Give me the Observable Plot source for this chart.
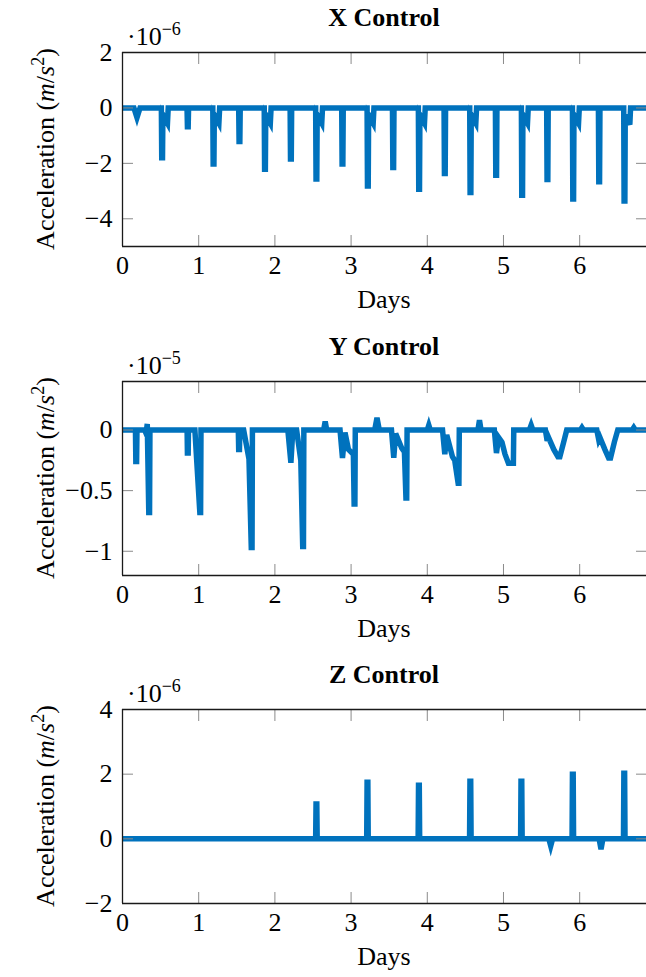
<!DOCTYPE html>
<html><head><meta charset="utf-8">
<script src="https://cdn.jsdelivr.net/npm/d3@7"></script>
<script src="https://cdn.jsdelivr.net/npm/@observablehq/plot@0.6"></script>
<style>
html,body{margin:0;padding:0;background:#fff;overflow:hidden;}
#chart svg{display:block;}
</style></head><body><div id="chart"></div>
<script>
// ---------- data (acceleration values in units of the axis multiplier) ----------
const xCtrlDays = [0, 0.15, 0.19, 0.23,
  0.51, 0.515, 0.525, 0.53, 0.59, 0.60,
  0.847, 0.852, 0.862, 0.867,
  1.185, 1.19, 1.20, 1.205, 1.265, 1.275,
  1.525, 1.53, 1.54, 1.545,
  1.86, 1.865, 1.875, 1.88, 1.94, 1.95,
  2.20, 2.205, 2.215, 2.22,
  2.535, 2.54, 2.55, 2.555, 2.615, 2.625,
  2.877, 2.882, 2.892, 2.897,
  3.21, 3.215, 3.225, 3.23, 3.29, 3.30,
  3.543, 3.548, 3.558, 3.563,
  3.883, 3.888, 3.898, 3.903, 3.963, 3.973,
  4.22, 4.225, 4.235, 4.24,
  4.557, 4.562, 4.572, 4.577, 4.637, 4.647,
  4.894, 4.899, 4.909, 4.914,
  5.235, 5.24, 5.25, 5.255, 5.315, 5.325,
  5.567, 5.572, 5.582, 5.587,
  5.905, 5.91, 5.92, 5.925, 5.985, 5.995,
  6.246, 6.251, 6.261, 6.266,
  6.578, 6.583, 6.593, 6.598, 6.658, 6.668,
  6.88];
const xCtrlVals = [0, 0, -0.35, 0,
  0, -1.80, -1.80, -0.25, -0.55, 0,
  0, -0.68, -0.68, 0,
  0, -2.02, -2.02, -0.25, -0.55, 0,
  0, -1.21, -1.21, 0,
  0, -2.21, -2.21, -0.25, -0.55, 0,
  0, -1.84, -1.84, 0,
  0, -2.56, -2.56, -0.25, -0.55, 0,
  0, -2.02, -2.02, 0,
  0, -2.82, -2.82, -0.25, -0.55, 0,
  0, -2.15, -2.15, 0,
  0, -2.93, -2.93, -0.25, -0.55, 0,
  0, -2.37, -2.37, 0,
  0, -3.05, -3.05, -0.25, -0.55, 0,
  0, -2.43, -2.43, 0,
  0, -3.15, -3.15, -0.25, -0.55, 0,
  0, -2.58, -2.58, 0,
  0, -3.29, -3.29, -0.25, -0.55, 0,
  0, -2.66, -2.66, 0,
  0, -3.36, -3.36, -0.25, -0.60, 0,
  0];

const yCtrlDays = [0, 0.17, 0.175, 0.185, 0.19,
  0.29, 0.31, 0.325, 0.345, 0.355, 0.36,
  0.848, 0.852, 0.862, 0.866,
  0.95, 1.015, 1.025, 1.03,
  1.52, 1.525, 1.535, 1.54,
  1.59, 1.66, 1.69, 1.70, 1.705,
  2.17, 2.21, 2.235, 2.285, 2.34, 2.365, 2.375, 2.38,
  2.64, 2.66, 2.68,
  2.855, 2.887, 2.92, 2.965, 3.03, 3.04, 3.05, 3.055,
  3.31, 3.34, 3.37,
  3.53, 3.56, 3.585, 3.665, 3.70, 3.72, 3.73, 3.735,
  4.00, 4.02, 4.04,
  4.20, 4.23, 4.255, 4.33, 4.36, 4.405, 4.415, 4.42,
  4.665, 4.685, 4.705,
  4.88, 4.908, 4.935, 4.98, 5.02, 5.065, 5.13, 5.135,
  5.34, 5.363, 5.385,
  5.55, 5.573, 5.59, 5.66, 5.715, 5.74, 5.79, 5.83,
  6.01, 6.03, 6.05,
  6.225, 6.25, 6.265, 6.33, 6.38, 6.405, 6.455, 6.50,
  6.69, 6.71, 6.73,
  6.88];
const yCtrlVals = [0, 0, -0.26, -0.26, 0,
  0, -0.03, 0.05, -0.68, -0.68, 0,
  0, -0.19, -0.19, 0,
  0, -0.68, -0.68, 0,
  0, -0.16, -0.16, 0,
  0, -0.24, -0.97, -0.97, 0,
  0, -0.27, 0, 0, -0.25, -0.96, -0.96, 0,
  0, 0.07, 0,
  0, -0.23, -0.02, -0.16, -0.20, -0.61, -0.61, 0,
  0, 0.10, 0,
  0, -0.23, -0.03, -0.15, -0.18, -0.56, -0.56, 0,
  0, 0.04, 0,
  0, -0.20, -0.04, -0.22, -0.25, -0.44, -0.44, 0,
  0, 0.08, 0,
  0, -0.19, -0.06, -0.10, -0.20, -0.275, -0.275, 0,
  0, 0.04, 0,
  0, -0.09, -0.06, -0.16, -0.22, -0.22, -0.10, 0,
  0, 0.02, 0,
  0, -0.08, -0.06, -0.16, -0.23, -0.23, -0.10, 0,
  0, 0.02, 0,
  0];

const zCtrlDays = [0,
  2.535, 2.54, 2.55, 2.555,
  3.205, 3.21, 3.22, 3.225,
  3.88, 3.885, 3.895, 3.90,
  4.555, 4.56, 4.57, 4.575,
  5.225, 5.23, 5.24, 5.245,
  5.595, 5.62, 5.645,
  5.90, 5.905, 5.915, 5.92,
  6.255, 6.28, 6.305,
  6.575, 6.58, 6.59, 6.595,
  6.88];
const zCtrlVals = [0,
  0, 1.08, 1.08, 0,
  0, 1.75, 1.75, 0,
  0, 1.66, 1.66, 0,
  0, 1.78, 1.78, 0,
  0, 1.78, 1.78, 0,
  0, -0.22, 0,
  0, 2.00, 2.00, 0,
  0, -0.32, 0,
  0, 2.03, 2.03, 0,
  0];

const titles = ["X Control", "Y Control", "Z Control"];
const exponents = ["6", "5", "6"];
const xTicks = [0, 1, 2, 3, 4, 5, 6];
const xTickLabels = ["0", "1", "2", "3", "4", "5", "6"];
const yTicksX = [2, 0, -2, -4];
const yTickLabelsX = ["2", "0", "\u22122", "\u22124"];
const yTicksY = [0, -0.5, -1];
const yTickLabelsY = ["0", "\u22120.5", "\u22121"];
const yTicksZ = [4, 2, 0, -2];
const yTickLabelsZ = ["4", "2", "0", "\u22122"];
const xLabel = "Days";

// ---------- layout / style ----------
const FONT = "'Liberation Serif', 'Times New Roman', Times, serif";
const BLUE = "#0072BD";
const TICK = "#8a8a8a";
const FRAME = "#1a1a1a";
const XDOMAIN = [0, 6.877];

const panels = [
  {days: xCtrlDays, vals: xCtrlVals, yDomain: [-5, 2], ticks: yTicksX, labels: yTickLabelsX, height: 327, mt: 52, mb: 81},
  {days: yCtrlDays, vals: yCtrlVals, yDomain: [-1.2, 0.4], ticks: yTicksY, labels: yTickLabelsY, height: 326, mt: 54, mb: 78},
  {days: zCtrlDays, vals: zCtrlVals, yDomain: [-2, 4], ticks: yTicksZ, labels: yTickLabelsZ, height: 324, mt: 56, mb: 74}
];

const fmt = (ticks, labels) => d => labels[ticks.indexOf(d)] ?? "";
const blank = () => "";

panels.forEach((p, k) => {
  const plot = Plot.plot({
    width: 646, height: p.height,
    marginLeft: 122, marginRight: 0, marginTop: p.mt, marginBottom: p.mb,
    style: {fontFamily: FONT, fontSize: "26px", color: "#000", background: "#fff", overflow: "visible"},
    x: {domain: XDOMAIN, label: null},
    y: {domain: p.yDomain, label: null},
    marks: [
      Plot.line(p.vals, {x: p.days, y: p.vals, stroke: BLUE, strokeWidth: 5.5,
        strokeLinejoin: "miter", strokeLinecap: "butt", strokeMiterlimit: 4, clip: true}),
      // inward tick marks on all four sides
      Plot.axisX(xTicks, {anchor: "bottom", tickSize: 11, dy: -11, tickFormat: blank, stroke: TICK, strokeWidth: 1, label: null}),
      Plot.axisX(xTicks, {anchor: "top", tickSize: 11, dy: 11, tickFormat: blank, stroke: TICK, strokeWidth: 1, label: null}),
      Plot.axisY(p.ticks, {anchor: "left", tickSize: 11, dx: 11, tickFormat: blank, stroke: TICK, strokeWidth: 1, label: null}),
      Plot.axisY(p.ticks, {anchor: "right", tickSize: 11, dx: -11, tickFormat: blank, stroke: TICK, strokeWidth: 1, label: null}),
      // tick labels
      Plot.axisX(xTicks, {anchor: "bottom", tickSize: 0, tickPadding: 9.5, tickFormat: fmt(xTicks, xTickLabels), fontSize: 26, label: null}),
      Plot.axisY(p.ticks, {anchor: "left", tickSize: 0, tickPadding: 10, tickFormat: fmt(p.ticks, p.labels), fontSize: 26, label: null}),
      // frame (left, top, bottom)
      Plot.ruleY([p.yDomain[0]], {stroke: FRAME, strokeWidth: 1.3}),
      Plot.ruleY([p.yDomain[1]], {stroke: FRAME, strokeWidth: 1.3}),
      Plot.ruleX([XDOMAIN[0]], {stroke: FRAME, strokeWidth: 1.3})
    ]
  });

  const svg = d3.select(plot);
  const T = p.mt, B = p.height - p.mb;
  const cx = 122 + (646 - 122) / 2;

  svg.append("text").attr("x", cx).attr("y", T - 26).attr("text-anchor", "middle")
    .attr("font-weight", "bold").attr("font-size", 26).text(titles[k]);

  const ex = svg.append("text").attr("x", 127).attr("y", T - 7)
    .attr("text-anchor", "start").attr("font-size", 26);
  ex.append("tspan").text("\u00B710");
  ex.append("tspan").attr("dy", -10).attr("font-size", 18).text("\u2212" + exponents[k]);

  const yl = svg.append("text")
    .attr("transform", `translate(53.5,${(T + B) / 2}) rotate(-90)`)
    .attr("text-anchor", "middle").attr("font-size", 26);
  yl.append("tspan").text("Acceleration (");
  yl.append("tspan").attr("font-style", "italic").text("m");
  yl.append("tspan").text("/");
  yl.append("tspan").attr("font-style", "italic").text("s");
  yl.append("tspan").attr("dy", -10).attr("font-size", 18).text("2");
  yl.append("tspan").attr("dy", 10).text(")");

  svg.append("text").attr("x", cx).attr("y", B + 62).attr("text-anchor", "middle")
    .attr("font-size", 26).text(xLabel);

  document.getElementById("chart").appendChild(plot);
});
</script>
</body></html>
